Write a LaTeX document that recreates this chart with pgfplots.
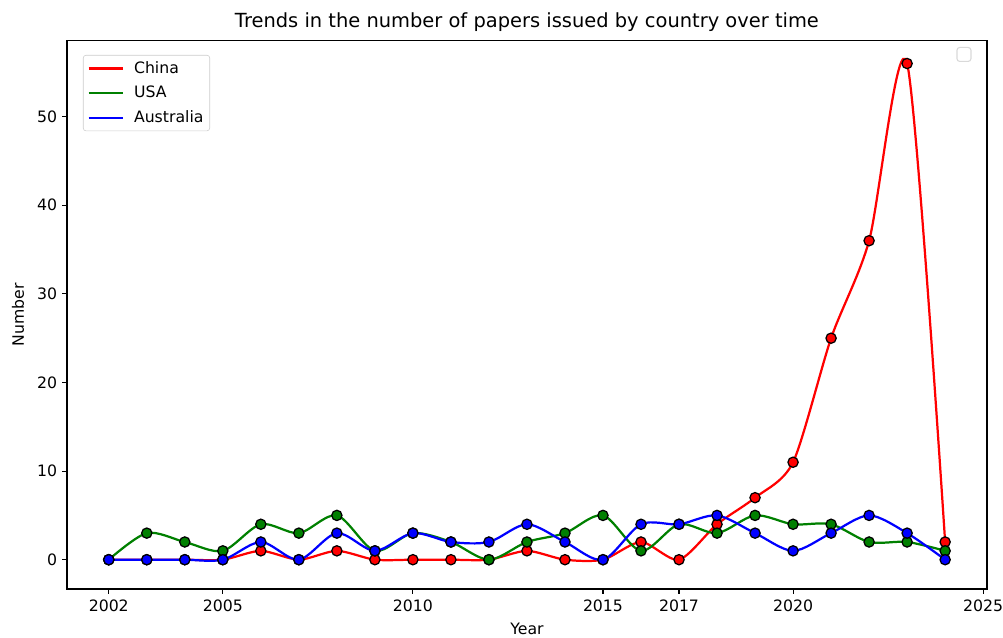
\documentclass[border=0pt]{standalone}
\usepackage{fontspec}
\setmainfont{DejaVu Sans}
\usepackage{pgfplots}
\usepackage{pgfplotstable}
\pgfplotsset{compat=1.18}

\pgfplotstableread{
year china usa australia
2002 0 0 0
2003 0 3 0
2004 0 2 0
2005 0 1 0
2006 1 4 2
2007 0 3 0
2008 1 5 3
2009 0 1 1
2010 0 3 3
2011 0 2 2
2012 0 0 2
2013 1 2 4
2014 0 3 2
2015 0 5 0
2016 2 1 4
2017 0 4 4
2018 4 3 5
2019 7 5 3
2020 11 4 1
2021 25 4 3
2022 36 2 5
2023 56 2 3
2024 2 1 0
}\papers

\definecolor{mplgreen}{rgb}{0,0.5,0}

\begin{document}
\begin{tikzpicture}
\useasboundingbox (0,0) rectangle (722.16pt,458.64pt);
\begin{axis}[
  at={(48.2pt,34.6pt)}, anchor=south west,
  scale only axis,
  width=662.4pt, height=394.9pt,
  xmin=2000.9, xmax=2025.1,
  ymin=-3.3, ymax=58.6,
  xtick={2002,2005,2010,2015,2017,2020,2025},
  xticklabels={2002,2005,2010,2015,2017,2020,2025},
  ytick={0,10,20,30,40,50},
  xtick pos=bottom, ytick pos=left,
  tick align=outside,
  major tick length=3.5pt,
  every tick/.style={black, line width=0.8pt},
  axis line style={line width=0.8pt},
  /pgf/number format/assume math mode=true,
  tick label style={font=\fontsize{11.3}{13.5}\selectfont},
  xticklabel style={yshift=-1pt},
  label style={font=\fontsize{11.3}{13.5}\selectfont},
  xlabel={Year},
  ylabel={Number},
  xlabel style={yshift=-1pt},
  ylabel style={at={(axis description cs:-0.0533,0.5)}, anchor=center},
  title={Trends in the number of papers issued by country over time},
  title style={font=\fontsize{14}{16}\selectfont, yshift=-3pt},
  legend style={
    at={(0.0174,0.9736)}, anchor=north west,
    draw=black!20, rounded corners=2pt,
    font=\fontsize{11.3}{13.5}\selectfont,
    row sep=4.7pt, inner sep=3pt,
    nodes={inner sep=1.5pt},
    /tikz/every odd column/.append style={column sep=6pt},
  },
  legend cell align=left,
  legend image code/.code={\draw[#1, mark=none] (0pt,0pt) -- (24.5pt,0pt);},
  clip=false,
]
\addplot[red, line width=1.6pt, smooth, tension=0.45, mark=*, mark size=3.7pt,
  mark options={fill=red, draw=black, line width=0.9pt, solid}]
  table[x=year, y=china] {\papers};
\addlegendentry{China}
\addplot[mplgreen, line width=1.6pt, smooth, tension=0.5, mark=*, mark size=3.7pt,
  mark options={fill=mplgreen, draw=black, line width=0.9pt, solid}]
  table[x=year, y=usa] {\papers};
\addlegendentry{USA}
\addplot[blue, line width=1.6pt, smooth, tension=0.5, mark=*, mark size=3.7pt,
  mark options={fill=blue, draw=black, line width=0.9pt, solid}]
  table[x=year, y=australia] {\papers};
\addlegendentry{Australia}
% empty second legend box in the upper right corner
\draw[black!15, line width=0.8pt, rounded corners=2pt]
  (rel axis cs:0.9674,0.9873) rectangle (rel axis cs:0.9826,0.9618);
\end{axis}
\end{tikzpicture}
\end{document}
